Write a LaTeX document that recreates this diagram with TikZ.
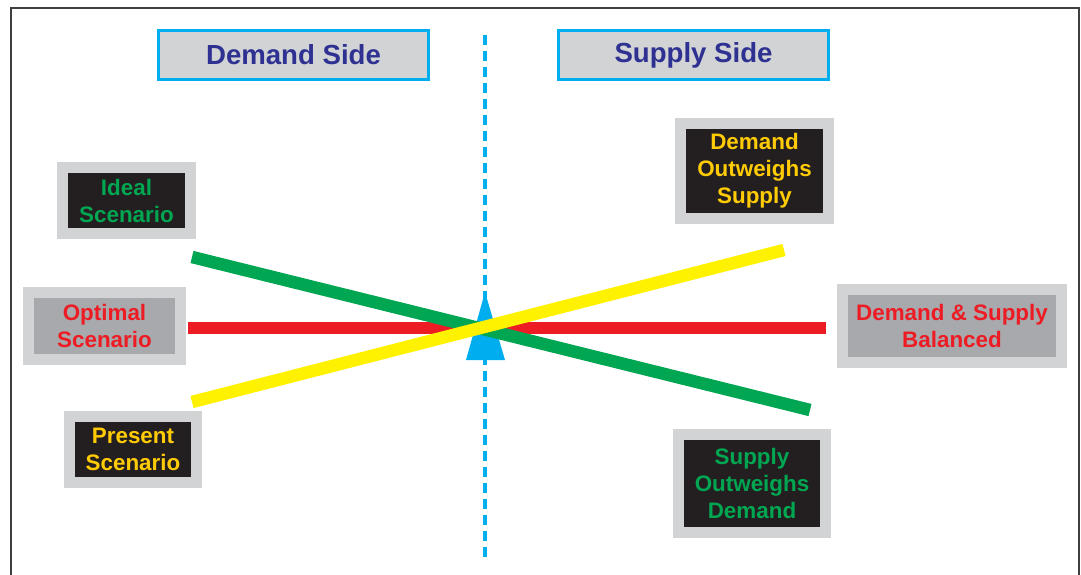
\documentclass[tikz,border=0pt]{standalone}
\usepackage{fontspec}
\setmainfont{Liberation Sans}
\usepackage{xcolor}

\definecolor{headblue}{HTML}{2E3192}
\definecolor{framecyan}{HTML}{00AEEF}
\definecolor{panelgrey}{HTML}{D1D3D4}
\definecolor{midgrey}{HTML}{A7A9AC}
\definecolor{boxblack}{HTML}{231F20}
\definecolor{levergreen}{HTML}{00A651}
\definecolor{leverred}{HTML}{ED1C24}
\definecolor{leveryellow}{HTML}{FFF200}
\definecolor{textgold}{HTML}{FFCB05}

\tikzset{
  sidehead/.style={draw=framecyan, fill=panelgrey, line width=3pt,
    minimum width=270pt, minimum height=49pt, text=headblue,
    font=\bfseries\fontsize{27.6}{33}\selectfont, inner sep=0pt},
  panel/.style={draw=panelgrey, line width=11pt, align=center, inner sep=0pt,
    font=\bfseries\fontsize{22.4}{27}\selectfont},
  lever/.style={line width=12.5pt},
}

\begin{document}
\begin{tikzpicture}[x=1pt,y=-1pt]
  \useasboundingbox (0,0) rectangle (1081,575);
  % outer frame, open at the bottom
  \draw[color=black!75, line width=2pt] (11,580) -- (11,8) -- (1079,8) -- (1079,580);

  % headings
  \node[sidehead] (demandside) at (293.5,55) {Demand Side};
  \node[sidehead] (supplyside) at (693.5,55) {Supply Side};

  % scenarios
  \node[panel, fill=boxblack, text=levergreen, minimum width=128pt, minimum height=66pt]
    (ideal) at (126.5,200.5) {Ideal\\Scenario};
  \node[panel, fill=midgrey, text=leverred, minimum width=152pt, minimum height=67pt]
    (optimal) at (104.5,326) {Optimal\\Scenario};
  \node[panel, fill=boxblack, text=textgold, minimum width=127pt, minimum height=66pt]
    (present) at (133,449.5) {Present\\Scenario};
  \node[panel, fill=boxblack, text=textgold, minimum width=148pt, minimum height=94pt]
    (dos) at (754.5,171) {Demand\\Outweighs\\Supply};
  \node[panel, fill=midgrey, text=leverred, minimum width=219pt, minimum height=73pt]
    (balanced) at (952,326) {Demand \& Supply\\Balanced};
  \node[panel, fill=boxblack, text=levergreen, minimum width=147pt, minimum height=98pt]
    (sod) at (752,483.5) {Supply\\Outweighs\\Demand};

  % divider and pivot
  \coordinate (top) at (485,35);
  \coordinate (bottom) at (485,557);
  \draw[framecyan, line width=4pt, dash pattern=on 10pt off 6pt] (top) -- (bottom);
  \coordinate (pivot) at (485,292);
  \fill[framecyan] (pivot) -- (505,360) -- (466,360) -- cycle;

  % levers
  \coordinate (r1) at (188,328);
  \coordinate (r2) at (826,328);
  \coordinate (g1) at (192,257);
  \coordinate (g2) at (810,410);
  \coordinate (y1) at (192,402);
  \coordinate (y2) at (784,250);
  \draw[lever, leverred] (r1) -- (r2);
  \draw[lever, levergreen] (g1) -- (g2);
  \draw[lever, leveryellow] (y1) -- (y2);
\end{tikzpicture}
\end{document}
